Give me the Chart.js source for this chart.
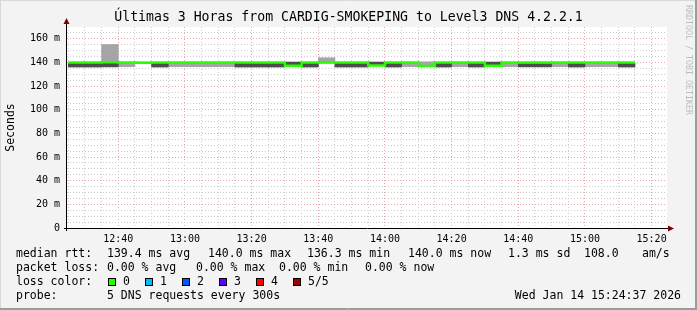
<!DOCTYPE html>
<html>
<head>
<meta charset="utf-8">
<script src="https://cdn.jsdelivr.net/npm/chart.js@4/dist/chart.umd.min.js"></script>
<style>
html, body { margin: 0; padding: 0; background: #f3f3f3; }
canvas { display: block; }
</style>
</head>
<body>
<canvas id="smokeChart" width="697" height="310"></canvas>
<script>
// 5 minute steps, start time of each step
const slotStarts = ['12:25','12:30','12:35','12:40','12:45','12:50','12:55',
  '13:00','13:05','13:10','13:15','13:20','13:25','13:30','13:35','13:40','13:45','13:50','13:55',
  '14:00','14:05','14:10','14:15','14:20','14:25','14:30','14:35','14:40','14:45','14:50','14:55',
  '15:00','15:05','15:10'];

// median rtt in ms
const medianRtt = [140.0,140.0,140.1,139.9,139.8,140.0,140.0,140.0,139.9,140.0,140.0,140.0,140.0,137.3,140.0,140.0,140.0,
  140.0,137.4,140.0,140.0,137.0,140.0,140.0,140.0,137.3,140.0,140.0,140.0,140.0,140.0,140.0,140.0,140.0];

// smoke: whole spread of the pings (light grey)
const smokeLo = [136.2,136.2,136.3,136.4,139.4,136.2,136.4,136.4,136.4,136.4,136.2,136.2,136.2,137.6,136.2,139.4,136.2,
  136.2,137.6,136.2,136.4,137.6,136.2,136.4,136.2,137.6,136.4,136.3,136.3,136.4,136.2,136.4,136.4,136.2];
const smokeHi = [139.3,139.3,155.2,139.3,140.4,139.3,139.3,139.3,139.3,139.3,139.3,139.3,139.3,140.3,139.3,144.0,139.3,
  139.3,140.3,139.3,139.3,140.6,139.3,139.3,139.3,140.3,139.3,139.0,139.0,139.3,139.3,139.3,139.3,139.3];

// smoke: dense part (dark grey), null where there is none
const coreLo = [136.2,136.2,136.3,null,null,136.2,null,null,null,null,136.2,136.2,136.2,137.6,136.2,null,136.2,
  136.2,137.6,136.2,null,null,136.2,null,136.2,137.6,null,136.3,136.3,null,136.2,null,null,136.2];
const coreHi = [139.3,139.3,139.3,null,null,139.3,null,null,null,null,139.3,139.3,139.3,140.3,139.3,null,139.3,
  139.3,140.3,139.3,null,null,139.3,null,139.3,140.3,null,139.0,139.0,null,139.3,null,null,139.3];

const xTickLabels = ['12:40','13:00','13:20','13:40','14:00','14:20','14:40','15:00','15:20'];
const yTickLabels = ['0','20 m','40 m','60 m','80 m','100 m','120 m','140 m','160 m'];

const lossColors = ['#26ff00','#00b8ff','#0059ff','#5e00ff','#ff0000','#a00000'];
const lossNames = ['0','1','2','3','4','5/5'];

const toMin = s => { const p = s.split(':').map(Number); return p[0] * 60 + p[1]; };
const stepMin = 5;
const viewStart = 12 * 60 + 24 + 37 / 60;  // 12:24:37
const viewEnd = viewStart + 180;

const smokeData = slotStarts.map((t, i) => ({x: toMin(t) + stepMin / 2, y: [smokeLo[i], smokeHi[i]]}));
const coreData = slotStarts.map((t, i) => ({x: toMin(t) + stepMin / 2, y: coreLo[i] == null ? null : [coreLo[i], coreHi[i]]}));
const medianData = slotStarts.map((t, i) => ({x: toMin(t), y: medianRtt[i]}));
medianData.push({x: toMin(slotStarts[slotStarts.length - 1]) + stepMin, y: medianRtt[medianRtt.length - 1]});

const mono = 'DejaVu Sans Mono';

const smokeFrame = {
  id: 'smokeFrame',
  beforeDraw(chart) {
    const {ctx, chartArea: a} = chart;
    ctx.save();
    ctx.fillStyle = '#f3f3f3';
    ctx.fillRect(0, 0, chart.width, chart.height);
    ctx.fillStyle = '#ffffff';
    ctx.fillRect(a.left, a.top, a.right - a.left, a.bottom - a.top);
    ctx.restore();
  },
  afterDraw(chart) {
    const {ctx, chartArea: a} = chart;
    ctx.save();

    // axes with arrows
    ctx.strokeStyle = '#000';
    ctx.lineWidth = 1;
    ctx.beginPath();
    ctx.moveTo(a.left - 0.5, a.bottom + 3);
    ctx.lineTo(a.left - 0.5, a.top - 4);
    ctx.moveTo(a.left - 3, a.bottom + 0.5);
    ctx.lineTo(a.right + 4, a.bottom + 0.5);
    ctx.stroke();
    ctx.fillStyle = '#800000';
    ctx.beginPath();
    ctx.moveTo(a.left - 0.5, a.top - 9);
    ctx.lineTo(a.left - 3.5, a.top - 3);
    ctx.lineTo(a.left + 2.5, a.top - 3);
    ctx.fill();
    ctx.beginPath();
    ctx.moveTo(a.right + 7, a.bottom + 0.5);
    ctx.lineTo(a.right + 1, a.bottom - 2.5);
    ctx.lineTo(a.right + 1, a.bottom + 3.5);
    ctx.fill();

    // title
    ctx.fillStyle = '#000';
    ctx.font = '13.2px "' + mono + '"';
    ctx.textAlign = 'center';
    ctx.textBaseline = 'middle';
    ctx.fillText('Últimas 3 Horas from CARDIG-SMOKEPING to Level3 DNS 4.2.2.1', chart.width / 2, 18);

    // legend block
    ctx.font = '11.5px "' + mono + '"';
    ctx.textAlign = 'left';
    const put = (s, x, y) => ctx.fillText(s, x, y);
    put('median rtt:', 16, 254);
    put('139.4 ms avg', 107, 254);
    put('140.0 ms max', 208, 254);
    put('136.3 ms min', 307, 254);
    put('140.0 ms now', 408, 254);
    put('1.3 ms sd', 508, 254);
    put('108.0', 584, 254);
    put('am/s', 642, 254);

    put('packet loss:', 16, 268);
    put('0.00 % avg', 107, 268);
    put('0.00 % max', 196, 268);
    put('0.00 % min', 279, 268);
    put('0.00 % now', 365, 268);

    put('loss color:', 16, 282);
    const boxX = [108, 145, 182, 219, 256, 293];
    lossColors.forEach((c, i) => {
      ctx.fillStyle = c;
      ctx.fillRect(boxX[i], 278, 8, 8);
      ctx.strokeStyle = '#000';
      ctx.strokeRect(boxX[i] + 0.5, 278.5, 7, 7);
      ctx.fillStyle = '#000';
      put(lossNames[i], boxX[i] + 15, 282);
    });

    put('probe:', 16, 296);
    put('5 DNS requests every 300s', 107, 296);
    ctx.textAlign = 'right';
    put('Wed Jan 14 15:24:37 2026', 681, 296);

    // watermark
    ctx.save();
    ctx.translate(688, 5);
    ctx.rotate(Math.PI / 2);
    ctx.textAlign = 'left';
    ctx.fillStyle = '#bdbdbd';
    ctx.font = '8.3px "' + mono + '"';
    ctx.fillText('RRDTOOL / TOBI OETIKER', 0, 0);
    ctx.restore();

    // frame
    ctx.strokeStyle = '#9c9c9c';
    ctx.beginPath();
    ctx.moveTo(695.5, 0); ctx.lineTo(695.5, 310);
    ctx.moveTo(696.5, 0); ctx.lineTo(696.5, 310);
    ctx.moveTo(0, 308.5); ctx.lineTo(697, 308.5);
    ctx.moveTo(0, 309.5); ctx.lineTo(697, 309.5);
    ctx.stroke();
    ctx.strokeStyle = '#d9d9d9';
    ctx.beginPath();
    ctx.moveTo(0, 0.5); ctx.lineTo(695, 0.5);
    ctx.moveTo(0.5, 0); ctx.lineTo(0.5, 308);
    ctx.stroke();
    ctx.restore();
  }
};

const majorGrid = '#eaa6a6';
const minorGrid = '#cdcdcd';

new Chart(document.getElementById('smokeChart'), {
  type: 'bar',
  data: {
    datasets: [
      {
        type: 'line',
        label: 'median',
        data: medianData,
        stepped: true,
        borderColor: '#26ff00',
        borderWidth: 2.5,
        pointRadius: 0,
        fill: false,
        order: 1
      },
      {
        label: 'core',
        data: coreData,
        backgroundColor: '#4d4d4d',
        borderWidth: 0,
        barPercentage: 1,
        categoryPercentage: 1,
        grouped: false,
        order: 2
      },
      {
        label: 'smoke',
        data: smokeData,
        backgroundColor: '#a5a5a5',
        borderWidth: 0,
        barPercentage: 1,
        categoryPercentage: 1,
        grouped: false,
        order: 3
      }
    ]
  },
  options: {
    responsive: false,
    devicePixelRatio: 1,
    animation: false,
    layout: { padding: { left: 0, right: 30, top: 27, bottom: 0 } },
    plugins: { legend: { display: false }, tooltip: { enabled: false } },
    scales: {
      x: {
        type: 'linear',
        min: viewStart,
        max: viewEnd,
        offset: false,
        afterBuildTicks: scale => {
          const t = [];
          for (let v = Math.ceil(viewStart / stepMin) * stepMin; v <= viewEnd; v += stepMin) t.push({value: v});
          scale.ticks = t;
        },
        afterFit: scale => { scale.height = 82; },
        grid: {
          offset: false,
          drawTicks: false,
          color: c => (c.tick && c.tick.value % 20 === 0) ? majorGrid : minorGrid
        },
        border: { display: false, dash: [1, 2] },
        ticks: {
          autoSkip: false,
          maxRotation: 0,
          padding: 5,
          color: '#000',
          font: { family: mono, size: 10 },
          callback: v => {
            if (v % 20 !== 0) return '';
            const lbl = String(Math.floor(v / 60)) + ':' + String(v % 60).padStart(2, '0');
            return xTickLabels.includes(lbl) ? lbl : '';
          }
        }
      },
      y: {
        min: 0,
        max: 170,
        afterBuildTicks: scale => {
          const t = [];
          for (let v = 0; v <= 170; v += 5) t.push({value: v});
          scale.ticks = t;
        },
        afterFit: scale => { scale.width = 67; },
        grid: {
          drawTicks: false,
          color: c => {
            const v = c.tick ? c.tick.value : 0;
            if (v === 0 || v === 170) return 'rgba(0,0,0,0)';
            return v % 20 === 0 ? majorGrid : minorGrid;
          }
        },
        border: { display: false, dash: [1, 2] },
        title: {
          display: true,
          text: 'Seconds',
          color: '#000',
          font: { family: mono, size: 11.5 },
          padding: { top: 4, bottom: 0 }
        },
        ticks: {
          autoSkip: false,
          padding: 7,
          color: '#000',
          font: { family: mono, size: 10 },
          callback: v => (v % 20 === 0 && v / 20 < yTickLabels.length) ? yTickLabels[v / 20] : ''
        }
      }
    }
  },
  plugins: [smokeFrame]
});
</script>
</body>
</html>
